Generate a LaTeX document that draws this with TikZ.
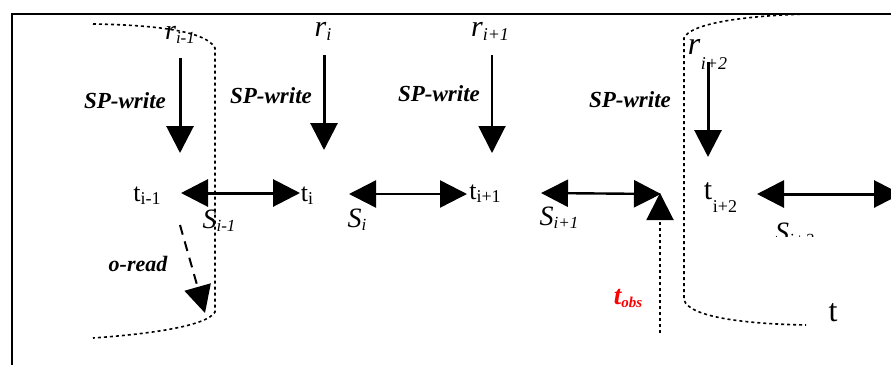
\documentclass[tikz,border=0pt]{standalone}
\usepackage{fontspec}
\setmainfont{Liberation Serif}
\usetikzlibrary{arrows.meta}

% font size helper and lowered subscripts
\newcommand\fsz[1]{\fontsize{#1}{#1}\selectfont}
\newcommand\lowsub[3]{{\fsz{#1}\raisebox{#2}{#3}}}

\begin{document}
\begin{tikzpicture}[x=1pt,y=-1pt,
  tipbig/.tip={Triangle[length=27pt,width=27pt]},
  down/.style={-tipbig, line width=3pt},
  span/.style={tipbig-tipbig, line width=3pt},
  bracket/.style={line width=1.6pt, dash pattern=on 3pt off 3pt},
  opname/.style={inner sep=0pt, font=\fsz{23}\bfseries\itshape},
  rlab/.style={inner sep=0pt, font=\fsz{30}\itshape},
  tlab/.style={inner sep=0pt, font=\fsz{26}},
  slab/.style={inner sep=0pt, font=\fsz{28}\itshape},
]
\useasboundingbox (0,0) rectangle (891,365);

% frame
\draw[line width=2pt] (11.5,365) -- (11.5,13.5) -- (891,13.5);

% dotted brackets
\draw[bracket] (93,24) .. controls (160,25) and (207,32) .. (215,48)
  -- (215,312) .. controls (207,326) and (150,334) .. (93,338);
\draw[bracket] (806,14) .. controls (740,16) and (690,24) .. (684,38)
  -- (684,300) .. controls (690,318) and (750,324) .. (806,325);

% request labels
\node[rlab, font=\fsz{28}\itshape] (r1) at (180,35) {r\lowsub{17}{-4pt}{i-1}};
\node[rlab] (r2) at (323,31) {r\lowsub{18}{-4pt}{i}};
\node[rlab] (r3) at (490,31) {r\lowsub{18}{-4pt}{i+1}};
\node[rlab, font=\fsz{32}\itshape] (r4) at (694,47) {r};
\node[inner sep=0pt, font=\fsz{18}\itshape] (r4s) at (714,64) {i+2};

% write arrows
\coordinate (w1a) at (180,58);  \coordinate (w1b) at (180,153);
\coordinate (w2a) at (324,55);  \coordinate (w2b) at (324,150);
\coordinate (w3a) at (492,55);  \coordinate (w3b) at (492,153);
\coordinate (w4a) at (708,62);  \coordinate (w4b) at (708,157);
\draw[down] (w1a) -- (w1b);
\draw[down] (w2a) -- (w2b);
\draw[down, line width=2pt] (w3a) -- (w3b);
\draw[down] (w4a) -- (w4b);

\node[opname] (sp1) at (125,101) {SP-write};
\node[opname] (sp2) at (271,96) {SP-write};
\node[opname] (sp3) at (439,94) {SP-write};
\node[opname] (sp4) at (630,100) {SP-write};

% time points
\node[tlab] (t1) at (147,196) {t\lowsub{18}{-3pt}{i-1}};
\node[tlab] (t2) at (307,196) {t\lowsub{18}{-3pt}{i}};
\node[tlab] (t3) at (485,194) {t\lowsub{18}{-3pt}{i+1}};
\node[tlab, font=\fsz{30}] (t4) at (708,191) {t};
\node[inner sep=0pt, font=\fsz{18}] (t4s) at (725,207) {i+2};
\node[inner sep=0pt, font=\fsz{32}] (tend) at (833,313) {t};

% spans between time points
\coordinate (s1a) at (181,193); \coordinate (s1b) at (300,193);
\coordinate (s2a) at (349,194); \coordinate (s2b) at (467,194);
\coordinate (s3a) at (541,193); \coordinate (s3b) at (661,194);
\coordinate (s4a) at (757,194); \coordinate (s4b) at (901,194);
\draw[span] (s1a) -- (s1b);
\draw[span, line width=2.4pt] (s2a) -- (s2b);
\draw[span, line width=2.4pt] (s3a) -- (s3b);
\draw[span] (s4a) -- (s4b);

\node[slab] (S1) at (219,221) {S\lowsub{17}{-3pt}{i-1}};
\node[slab] (S2) at (357,220) {S\lowsub{17}{-3pt}{i}};
\node[slab] (S3) at (559,218) {S\lowsub{17}{-3pt}{i+1}};
\begin{scope}
  \clip (760,205) rectangle (891,236);
  \node[slab, anchor=base west] (S4) at (775,241) {S\lowsub{17}{-4pt}{i+2}};
\end{scope}

% o-read
\coordinate (ra) at (180,225); \coordinate (rb) at (205,313);
\draw[-tipbig, line width=2pt, dash pattern=on 10pt off 7pt] (ra) -- (rb);
\node[opname, font=\fsz{22}\bfseries\itshape] (oread) at (138,264) {o-read};

% observation instant
\coordinate (oa) at (660,333); \coordinate (ob) at (660,193);
\draw[-tipbig, line width=2pt, dash pattern=on 3pt off 3pt] (oa) -- (ob);
\node[inner sep=0pt, text=red, font=\fsz{27}\bfseries\itshape] (tobs) at (628,298)
  {t\lowsub{15}{-3pt}{obs}};
\end{tikzpicture}
\end{document}
